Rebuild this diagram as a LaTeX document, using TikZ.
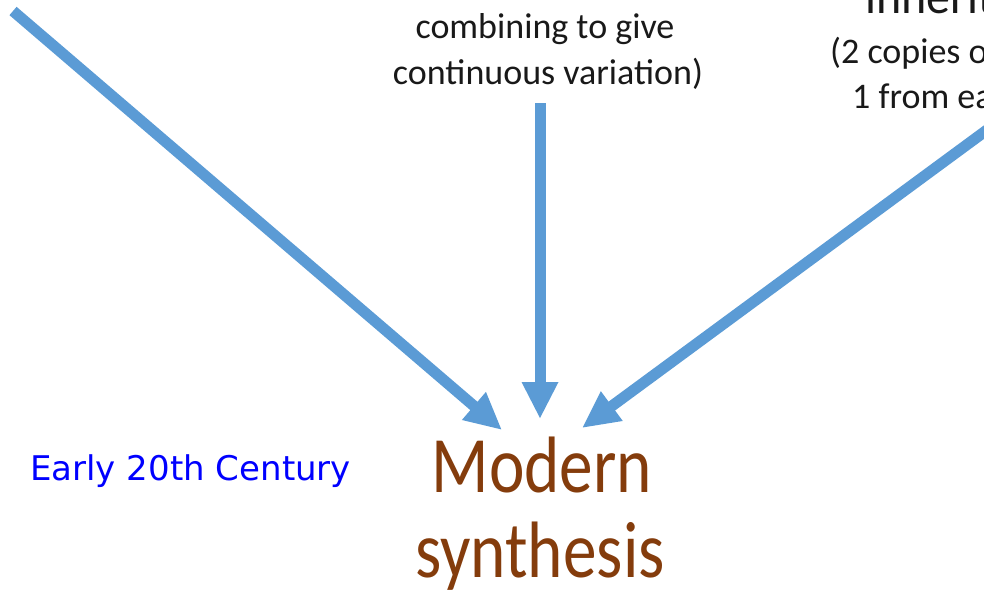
\documentclass[tikz,border=0pt]{standalone}
\usepackage{fontspec}
\setmainfont{Carlito}
\newfontfamily\dejavu{DejaVu Sans}
\newfontfamily\squeezed[FakeStretch=0.84]{Carlito}
\usetikzlibrary{arrows.meta}
\definecolor{arrowblue}{HTML}{5B9BD5}
\definecolor{synbrown}{HTML}{843C0C}
\tikzset{
  conn/.style={draw=arrowblue, line width=11pt,
    -{Triangle[length=37pt,width=34pt]}},
  smalltext/.style={inner sep=0pt, font=\fontsize{36}{45}\selectfont, text=black!90},
  bigtext/.style={inner sep=0pt, font=\squeezed\fontsize{80}{78}\selectfont, text=synbrown},
  headtext/.style={inner sep=0pt, font=\fontsize{48}{58}\selectfont, text=black!90},
  eratext/.style={inner sep=0pt, font=\dejavu\fontsize{34}{40}\selectfont, text=blue}
}
\begin{document}
\begin{tikzpicture}[x=1pt,y=-1pt]
\useasboundingbox (0,0) rectangle (984,595);
\clip (0,0) rectangle (984,595);
% texts
\node[smalltext, anchor=base] (c1) at (545,38) {combining to give};
\node[smalltext, anchor=base] (c2) at (548,84) {continuous variation)};
\node[headtext, anchor=base west] (r0) at (865,13) {inheritance};
\node[smalltext, anchor=base west] (r1) at (830,63) {(2 copies of each gene,};
\node[smalltext, anchor=base west] (r2) at (852,108) {1 from each parent)};
\node[eratext, anchor=base west] (era) at (30,480) {Early 20th Century};
\node[bigtext, anchor=base] (m1) at (542,492) {Modern};
\node[bigtext, anchor=base] (m2) at (540,577) {synthesis};
% connector end points
\coordinate (lstart) at (13,11);
\coordinate (ltip) at (502,430);
\coordinate (cstart) at (540,103);
\coordinate (ctip) at (540,419);
\coordinate (rstart) at (1010,113);
\coordinate (rtip) at (582,428);
\draw[conn] (lstart) -- (ltip);
\draw[conn] (cstart) -- (ctip);
\draw[conn] (rstart) -- (rtip);
\end{tikzpicture}
\end{document}
